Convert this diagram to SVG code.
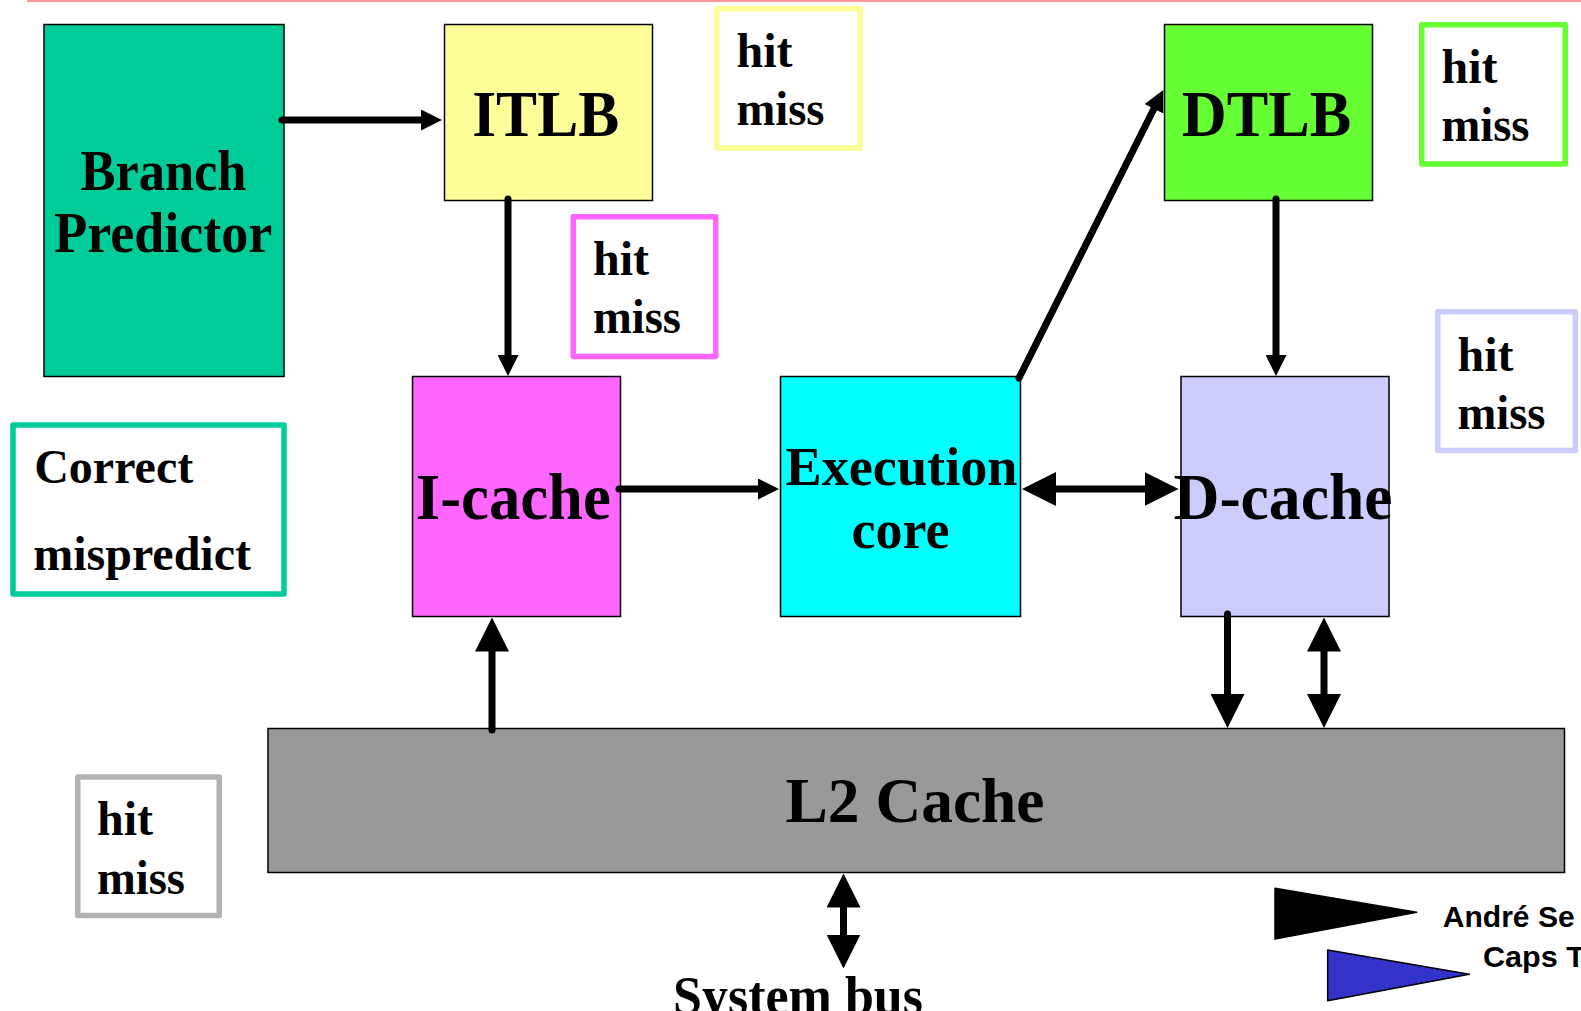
<svg xmlns="http://www.w3.org/2000/svg" width="1581" height="1011" viewBox="0 0 1581 1011">
  <style>
    .blk { stroke: #000; stroke-width: 1.5; }
    .big { font-family: "Liberation Serif", "Times New Roman", serif; font-weight: bold; fill: #000; }
    .hm { fill: #fff; stroke-width: 5.5; stroke-linejoin: round; }
    .hmt { font-family: "Liberation Serif", "Times New Roman", serif; font-weight: bold; font-size: 48px; fill: #000; }
    .wire { fill: none; stroke: #000; stroke-width: 7; stroke-linecap: round; }
    .sans { font-family: "Liberation Sans", Arial, sans-serif; font-weight: bold; font-size: 30px; fill: #000; }
  </style>
  <defs>
    <marker id="head-s" markerUnits="userSpaceOnUse" markerWidth="21" markerHeight="21" refX="2" refY="10.5" orient="auto-start-reverse">
      <path d="M0,0 L21,10.5 L0,21 z" fill="#000"/>
    </marker>
    <marker id="head-l" markerUnits="userSpaceOnUse" markerWidth="34" markerHeight="34" refX="2" refY="17" orient="auto-start-reverse">
      <path d="M0,0 L34,17 L0,34 z" fill="#000"/>
    </marker>
  </defs>

  <rect width="1581" height="1011" fill="#fff"/>
  <line x1="27" y1="1" x2="1581" y2="1" stroke="#ff9999" stroke-width="2"/>

  <!-- units -->
  <g id="branch-predictor">
    <rect class="blk" x="44" y="24.5" width="240" height="352" fill="#00cc99"/>
    <text class="big" x="163.5" y="190" font-size="58" text-anchor="middle" textLength="166" lengthAdjust="spacingAndGlyphs">Branch</text>
    <text class="big" x="163.3" y="252" font-size="58" text-anchor="middle" textLength="218" lengthAdjust="spacingAndGlyphs">Predictor</text>
  </g>
  <g id="itlb">
    <rect class="blk" x="444.5" y="24.5" width="208" height="176" fill="#ffff99"/>
    <text class="big" x="545.7" y="135.5" font-size="65" text-anchor="middle" textLength="147" lengthAdjust="spacingAndGlyphs">ITLB</text>
  </g>
  <g id="dtlb">
    <rect class="blk" x="1164.5" y="24.5" width="208" height="176" fill="#66ff33"/>
    <text class="big" x="1266.6" y="135.5" font-size="65" text-anchor="middle" textLength="169.5" lengthAdjust="spacingAndGlyphs">DTLB</text>
  </g>
  <g id="icache">
    <rect class="blk" x="412.5" y="376.5" width="208" height="240" fill="#ff66ff"/>
    <text class="big" x="513.3" y="519" font-size="65" text-anchor="middle" textLength="195" lengthAdjust="spacingAndGlyphs">I-cache</text>
  </g>
  <g id="execution-core">
    <rect class="blk" x="780.5" y="376.5" width="240" height="240" fill="#00ffff"/>
    <text class="big" x="901.5" y="484.5" font-size="54" text-anchor="middle" textLength="232" lengthAdjust="spacingAndGlyphs">Execution</text>
    <text class="big" x="900.5" y="548" font-size="54" text-anchor="middle">core</text>
  </g>
  <g id="dcache">
    <rect class="blk" x="1181" y="376.5" width="208" height="240" fill="#ccccff"/>
    <text class="big" x="1283" y="518.5" font-size="65" text-anchor="middle" textLength="219" lengthAdjust="spacingAndGlyphs">D-cache</text>
  </g>
  <g id="l2-cache">
    <rect class="blk" x="268" y="728.5" width="1296.5" height="144" fill="#999999"/>
    <text class="big" x="915" y="822" font-size="64" text-anchor="middle" textLength="259" lengthAdjust="spacingAndGlyphs">L2 Cache</text>
  </g>
  <g id="system-bus">
    <text class="big" x="798" y="1014" font-size="54" text-anchor="middle" textLength="250" lengthAdjust="spacingAndGlyphs">System bus</text>
  </g>

  <!-- hit / miss legends -->
  <g id="itlb-hit-miss">
    <rect class="hm" x="716.75" y="8.75" width="143.5" height="139.2" stroke="#ffff99"/>
    <text class="hmt" x="736.5" y="66.5">hit</text>
    <text class="hmt" x="736.5" y="125" textLength="88" lengthAdjust="spacingAndGlyphs">miss</text>
  </g>
  <g id="icache-hit-miss">
    <rect class="hm" x="573.25" y="216.75" width="142.5" height="139.8" stroke="#ff66ff"/>
    <text class="hmt" x="593" y="275">hit</text>
    <text class="hmt" x="593" y="333" textLength="88" lengthAdjust="spacingAndGlyphs">miss</text>
  </g>
  <g id="dtlb-hit-miss">
    <rect class="hm" x="1421.75" y="24.75" width="143.5" height="139.2" stroke="#66ff33"/>
    <text class="hmt" x="1441.5" y="82.5">hit</text>
    <text class="hmt" x="1441.5" y="140.5" textLength="88" lengthAdjust="spacingAndGlyphs">miss</text>
  </g>
  <g id="dcache-hit-miss">
    <rect class="hm" x="1437.75" y="311.75" width="137.5" height="138.8" stroke="#ccccff"/>
    <text class="hmt" x="1457.5" y="370.5">hit</text>
    <text class="hmt" x="1457.5" y="428.5" textLength="88" lengthAdjust="spacingAndGlyphs">miss</text>
  </g>
  <g id="l2-hit-miss">
    <rect class="hm" x="77.75" y="777" width="141.5" height="138.5" stroke="#b2b2b2"/>
    <text class="hmt" x="97" y="835">hit</text>
    <text class="hmt" x="97" y="893.5" textLength="88" lengthAdjust="spacingAndGlyphs">miss</text>
  </g>
  <g id="branch-legend">
    <rect class="hm" x="13" y="425" width="271" height="169" stroke="#00cc99"/>
    <text class="hmt" x="34.2" y="483.3">Correct</text>
    <text class="hmt" x="33.2" y="570">mispredict</text>
  </g>

  <!-- connectors -->
  <g id="connectors">
    <path class="wire" d="M282,120 H423" marker-end="url(#head-s)"/>
    <path class="wire" d="M508,199 V357" marker-end="url(#head-s)"/>
    <path class="wire" d="M619,489 H760" marker-end="url(#head-s)"/>
    <path class="wire" d="M1054,489 H1146.5" marker-start="url(#head-l)" marker-end="url(#head-l)"/>
    <path class="wire" d="M1019,378 L1154.8,107" marker-end="url(#head-s)"/>
    <path class="wire" d="M1276,199 V357" marker-end="url(#head-s)"/>
    <path class="wire" d="M492,730 V649.5" marker-end="url(#head-l)"/>
    <path class="wire" d="M1227.5,614 V696" marker-end="url(#head-l)"/>
    <path class="wire" d="M1324,649.5 V696" marker-start="url(#head-l)" marker-end="url(#head-l)"/>
    <path class="wire" d="M843.5,905.5 V936.5" marker-start="url(#head-l)" marker-end="url(#head-l)"/>
  </g>

  <!-- author footer -->
  <g id="footer">
    <polygon points="1275,888.3 1416.7,912.3 1275,939" fill="#000" stroke="#000" stroke-width="1.5" stroke-linejoin="round"/>
    <polygon points="1327.7,950 1469.3,974.3 1327.7,1000.7" fill="#3333cc" stroke="#000" stroke-width="1.5" stroke-linejoin="round"/>
    <text class="sans" x="1442.7" y="927.3" textLength="132" lengthAdjust="spacingAndGlyphs">André Se</text>
    <text class="sans" x="1483" y="966.7" textLength="102" lengthAdjust="spacingAndGlyphs">Caps T</text>
  </g>
</svg>
